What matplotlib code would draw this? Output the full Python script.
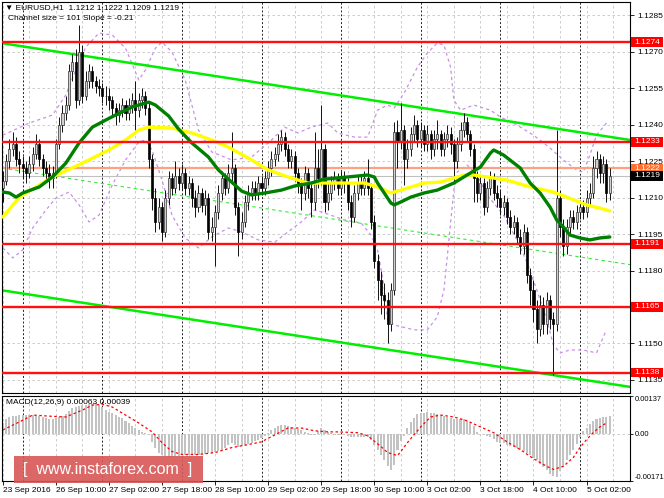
import matplotlib
matplotlib.use("Agg")
import matplotlib.pyplot as plt
import matplotlib.transforms as mtransforms
from matplotlib.patches import Rectangle
import numpy as np

plt.rcParams['font.family'] = ['Liberation Sans', 'DejaVu Sans']

# ---------------- data ----------------
first_open = 1.1214
closes = [
    1.1217, 1.1225, 1.1230, 1.1232, 1.1226, 1.1224, 1.1222, 1.1220, 1.1224, 1.1228,
    1.1232, 1.1226, 1.1222, 1.1220, 1.1218, 1.1220, 1.1232, 1.1240, 1.1245, 1.1248,
    1.1262, 1.1266, 1.1250, 1.1270, 1.1252, 1.1258, 1.1262, 1.1258, 1.1256, 1.1255,
    1.1252, 1.1252, 1.1250, 1.1247, 1.1244, 1.1246, 1.1248, 1.1245, 1.1248, 1.1250,
    1.1246, 1.1250, 1.1252, 1.1247, 1.1226, 1.1210, 1.1200, 1.1206, 1.1196, 1.1210,
    1.1218, 1.1214, 1.1219, 1.1216, 1.1220, 1.1214, 1.1216, 1.1210, 1.1206, 1.1212,
    1.1207, 1.1210, 1.1196, 1.1198, 1.1204, 1.1212, 1.1218, 1.1214, 1.1220, 1.1222,
    1.1206, 1.1196, 1.1200, 1.1208, 1.1212, 1.1214, 1.1212, 1.1216, 1.1214, 1.1218,
    1.1222, 1.1226, 1.1228, 1.1232, 1.1235, 1.1230, 1.1225, 1.1227, 1.1220, 1.1216,
    1.1212, 1.1220, 1.1214, 1.1208, 1.1222, 1.1218, 1.1230, 1.1208, 1.1212, 1.1216,
    1.1218, 1.1214, 1.1218, 1.1216, 1.1208, 1.1202, 1.1212, 1.1216, 1.1214, 1.1218,
    1.1214, 1.1200, 1.1184, 1.1176, 1.1170, 1.1168, 1.1158, 1.1172, 1.1237, 1.1233,
    1.1238, 1.1226, 1.1230, 1.1236, 1.1240, 1.1234, 1.1238, 1.1232, 1.1236, 1.1230,
    1.1234, 1.1236, 1.1230, 1.1234, 1.1236, 1.1232, 1.1225, 1.1232, 1.1238, 1.1241,
    1.1236, 1.1230, 1.1218, 1.1212, 1.1216, 1.1206, 1.1214, 1.1218, 1.1212, 1.1210,
    1.1206, 1.1208, 1.1202, 1.1198, 1.1200, 1.1194, 1.1190, 1.1196, 1.1178, 1.1172,
    1.1164, 1.1156, 1.1166, 1.1158, 1.1168, 1.1160, 1.1158, 1.1210, 1.1198, 1.1190,
    1.1198, 1.1202, 1.1200, 1.1204, 1.1206, 1.1204, 1.1210, 1.1212, 1.1222, 1.1226,
    1.1220, 1.1224, 1.1212, 1.1219]
highs = [
    1.1221, 1.1228, 1.1234, 1.1237, 1.1235, 1.1229, 1.1227, 1.1225, 1.1227, 1.1231,
    1.1236, 1.1234, 1.1228, 1.1225, 1.1224, 1.1223, 1.1234, 1.1243, 1.1248, 1.1252,
    1.1265, 1.1269, 1.1271, 1.1281, 1.1273, 1.1262, 1.1265, 1.1264, 1.1260, 1.1259,
    1.1257, 1.1256, 1.1255, 1.1252, 1.1249, 1.1249, 1.1251, 1.1250, 1.1251, 1.1253,
    1.1258, 1.1253, 1.1255, 1.1254, 1.1249, 1.1228, 1.1214, 1.1210, 1.1208, 1.1213,
    1.1221, 1.1220, 1.1225, 1.1222, 1.1224, 1.1222, 1.1219, 1.1218, 1.1213, 1.1215,
    1.1214, 1.1213, 1.1212, 1.1202, 1.1207, 1.1215, 1.1221, 1.1220, 1.1224, 1.1237,
    1.1224, 1.1208, 1.1204, 1.1211, 1.1215, 1.1217, 1.1217, 1.1219, 1.1219, 1.1221,
    1.1225, 1.1229, 1.1231, 1.1236, 1.1238, 1.1237, 1.1232, 1.1230, 1.1229, 1.1222,
    1.1218, 1.1223, 1.1222, 1.1216, 1.1237, 1.1230, 1.1248, 1.1232, 1.1216, 1.1219,
    1.1221, 1.1220, 1.1221, 1.1221, 1.1218, 1.1211, 1.1215, 1.1219, 1.1219, 1.1221,
    1.1226, 1.1216, 1.1203, 1.1187, 1.1180, 1.1175, 1.1171, 1.1175, 1.1241, 1.1242,
    1.1249, 1.1240, 1.1234, 1.1239, 1.1244, 1.1242, 1.1241, 1.1240, 1.1240, 1.1238,
    1.1238, 1.1242, 1.1238, 1.1237, 1.1240, 1.1239, 1.1234, 1.1235, 1.1241, 1.1245,
    1.1243, 1.1238, 1.1232, 1.1221, 1.1219, 1.1218, 1.1217, 1.1221, 1.1220, 1.1215,
    1.1213, 1.1211, 1.1210, 1.1205, 1.1203, 1.1202, 1.1197, 1.1199, 1.1198, 1.1181,
    1.1176, 1.1168, 1.1170, 1.1169, 1.1171, 1.1170, 1.1163, 1.1238, 1.1213, 1.1201,
    1.1201, 1.1205, 1.1205, 1.1207, 1.1209, 1.1209, 1.1213, 1.1216, 1.1227, 1.1229,
    1.1228, 1.1227, 1.1226, 1.1222]
lows = [
    1.1208, 1.1215, 1.1222, 1.1227, 1.1223, 1.1220, 1.1218, 1.1216, 1.1218, 1.1221,
    1.1226, 1.1223, 1.1219, 1.1217, 1.1214, 1.1214, 1.1218, 1.1230, 1.1237, 1.1242,
    1.1246, 1.1258, 1.1247, 1.1248, 1.1249, 1.1250, 1.1255, 1.1255, 1.1253, 1.1252,
    1.1249, 1.1248, 1.1246, 1.1243, 1.1240, 1.1241, 1.1243, 1.1242, 1.1242, 1.1245,
    1.1238, 1.1243, 1.1247, 1.1244, 1.1222, 1.1205, 1.1196, 1.1197, 1.1192, 1.1194,
    1.1207, 1.1211, 1.1212, 1.1213, 1.1213, 1.1211, 1.1211, 1.1206, 1.1202, 1.1204,
    1.1204, 1.1203, 1.1193, 1.1192, 1.1182, 1.1201, 1.1209, 1.1211, 1.1212, 1.1217,
    1.1203, 1.1186, 1.1193, 1.1198, 1.1205, 1.1209, 1.1209, 1.1209, 1.1211, 1.1211,
    1.1215, 1.1219, 1.1223, 1.1225, 1.1229, 1.1227, 1.1222, 1.1222, 1.1217, 1.1212,
    1.1205, 1.1209, 1.1210, 1.1202, 1.1205, 1.1214, 1.1215, 1.1204, 1.1205, 1.1209,
    1.1213, 1.1211, 1.1211, 1.1212, 1.1205, 1.1198, 1.1200, 1.1209, 1.1211, 1.1211,
    1.1211, 1.1197, 1.1181, 1.1168, 1.1162, 1.1160, 1.1150, 1.1155, 1.1170, 1.1222,
    1.1230, 1.1215, 1.1222, 1.1227, 1.1233, 1.1231, 1.1231, 1.1229, 1.1229, 1.1226,
    1.1227, 1.1230, 1.1227, 1.1227, 1.1231, 1.1228, 1.1216, 1.1222, 1.1229, 1.1235,
    1.1233, 1.1227, 1.1208, 1.1208, 1.1209, 1.1203, 1.1204, 1.1211, 1.1209, 1.1206,
    1.1203, 1.1203, 1.1199, 1.1195, 1.1195, 1.1191, 1.1187, 1.1187, 1.1175, 1.1166,
    1.1159, 1.1150, 1.1153, 1.1154, 1.1154, 1.1156, 1.1137, 1.1155, 1.1194, 1.1186,
    1.1187, 1.1195, 1.1197, 1.1197, 1.1201, 1.1201, 1.1202, 1.1207, 1.1210, 1.1218,
    1.1216, 1.1216, 1.1208, 1.1209]

# moving averages (bar index, price)
green_idx = [0, 2, 4, 6, 11, 15, 19, 23, 27, 31, 34, 39, 44, 46, 50, 53, 57, 62, 65, 69,
             72, 75, 79, 84, 88, 93, 97, 104, 110, 112, 113, 115, 117, 118, 120, 123, 127,
             131, 136, 139, 144, 147, 148, 151, 156, 159, 162, 165, 167, 169, 171, 174,
             177, 180, 183]
green_val = [1.12123, 1.12119, 1.12102, 1.12119, 1.12144, 1.12185, 1.12242, 1.12325,
             1.12390, 1.12419, 1.12440, 1.12473, 1.12493, 1.12481, 1.12436, 1.12382,
             1.12325, 1.12267, 1.12214, 1.12164, 1.12127, 1.12111, 1.12119, 1.12131,
             1.12148, 1.12160, 1.12176, 1.12185, 1.12193, 1.12185, 1.12160, 1.12119,
             1.12078, 1.12070, 1.12082, 1.12102, 1.12119, 1.12131, 1.12160, 1.12185,
             1.12226, 1.12283, 1.12296, 1.12275, 1.12222, 1.12160, 1.12119, 1.12061,
             1.12008, 1.11979, 1.11946, 1.11934, 1.11926, 1.11934, 1.11938]
yellow_idx = [0, 5, 15, 24, 32, 37, 41, 44, 51, 57, 63, 68, 75, 80, 86, 92, 100, 109,
              113, 117, 120, 127, 132, 139, 142, 146, 152, 159, 166, 170, 176, 180, 183]
yellow_val = [1.12020, 1.12102, 1.12185, 1.12242, 1.12296, 1.12337, 1.12378, 1.12390,
              1.12386, 1.12366, 1.12337, 1.12308, 1.12255, 1.12214, 1.12185, 1.12160,
              1.12160, 1.12160, 1.12144, 1.12119, 1.12131, 1.12160, 1.12164, 1.12193,
              1.12193, 1.12185, 1.12172, 1.12144, 1.12123, 1.12102, 1.12070, 1.12057,
              1.12045]
bb_up_idx = [0, 8, 15, 19, 22, 25, 29, 33, 37, 41, 43, 46, 48, 51, 55, 59, 63, 69, 75, 81,
             85, 89, 93, 98, 101, 106, 110, 113, 116, 118, 121, 125, 128, 131, 133, 135,
             136, 138, 142, 147, 150, 155, 160, 165, 169, 173, 175, 177, 179, 182]
bb_up_val = [1.12357, 1.12407, 1.12440, 1.12522, 1.12625, 1.12719, 1.12777, 1.12769,
             1.12715, 1.12584, 1.12625, 1.12715, 1.12740, 1.12699, 1.12584, 1.12378,
             1.12288, 1.12255, 1.12267, 1.12337, 1.12390, 1.12366, 1.12390, 1.12407,
             1.12366, 1.12349, 1.12349, 1.12460, 1.12481, 1.12469, 1.12530, 1.12637,
             1.12695, 1.12736, 1.12728, 1.12637, 1.12501, 1.12460, 1.12481, 1.12460,
             1.12432, 1.12399, 1.12357, 1.12304, 1.12255, 1.12214, 1.12205, 1.12275,
             1.12357, 1.12407]
bb_lo_idx = [0, 3, 6, 9, 13, 16, 20, 23, 26, 29, 33, 37, 41, 43, 45, 48, 51, 55, 59, 63,
             68, 72, 77, 82, 86, 90, 94, 97, 103, 108, 111, 113, 115, 116, 118, 124, 128,
             131, 133, 134, 135, 136, 137, 140, 143, 146, 151, 155, 158, 161, 164, 166,
             168, 171, 175, 179, 182]
bb_lo_val = [1.11893, 1.11852, 1.11885, 1.11975, 1.12049, 1.12098, 1.12123, 1.12070,
             1.12000, 1.12028, 1.12152, 1.12255, 1.12329, 1.12337, 1.12296, 1.12172,
             1.12028, 1.11934, 1.11893, 1.11938, 1.11975, 1.11959, 1.11926, 1.11917,
             1.11959, 1.12000, 1.12049, 1.12037, 1.12008, 1.11996, 1.11946, 1.11885,
             1.11732, 1.11597, 1.11576, 1.11556, 1.11556, 1.11609, 1.11720, 1.11856,
             1.11996, 1.12131, 1.12205, 1.12234, 1.12193, 1.12111, 1.12028, 1.11926,
             1.11835, 1.11720, 1.11597, 1.11494, 1.11461, 1.11473, 1.11473, 1.11461,
             1.11556]

# regression channel (bar index, price)
channel_idx = [0, 183]
channel_upper = [1.12735, 1.12350]
channel_mid = [1.12221, 1.11837]
channel_lower = [1.11718, 1.11334]

# levels
red_levels = [1.1274, 1.1233, 1.1191, 1.1165, 1.1138]
orange_level = 1.1222
last_price = 1.1219

# MACD (main histogram and signal, in units of 1e-5)
macd_hist = [
    39, 55, 60, 64, 66, 68, 68, 68, 68, 68, 66, 63, 60, 57, 54, 55, 57, 60, 64, 72,
    84, 92, 97, 101, 104, 106, 107, 109, 111, 105, 97, 88, 80, 74, 68, 62, 57, 48, 40, 30,
    22, 14, 7, 3, -5, -30, -52, -68, -76, -82, -83, -83, -82, -80, -78, -76, -75, -75, -75, -75,
    -74, -72, -70, -68, -66, -62, -57, -50, -40, -32, -40, -46, -45, -42, -38, -33, -27, -21, -15, -9,
    3, 14, 22, 30, 33, 32, 30, 26, 22, 18, 12, 8, 4, -4, -6, 10, 20, 12, 7, 3,
    -3, -4, -4, -5, -8, -10, -10, -10, -10, -10, -12, -22, -40, -60, -78, -95, -118, -130, -112, -60,
    -25, -8, 20, 43, 58, 70, 75, 77, 78, 77, 75, 72, 68, 65, 61, 58, 55, 54, 54, 52,
    46, 38, 27, 8, -2, -5, -8, -12, -20, -28, -32, -35, -40, -43, -47, -52, -57, -62, -70, -78,
    -86, -96, -108, -120, -132, -145, -152, -155, -135, -115, -95, -78, -58, -38, -12, 10, 22, 35, 45, 52,
    58, 61, 62, 63]
signal_idx = [0, 5, 9, 14, 19, 24, 27, 30, 33, 37, 41, 45, 48, 51, 54, 59, 64, 69, 74, 78,
              82, 86, 90, 94, 98, 101, 107, 110, 114, 116, 119, 120, 122, 126, 129, 132,
              136, 140, 144, 148, 152, 156, 160, 164, 166, 169, 172, 174, 176, 178, 180, 182]
signal_val = [14, 43, 68, 64, 61, 86, 104, 107, 97, 68, 39, 7, -32, -64, -75, -75, -68, -50,
              -39, -29, -4, 21, 21, 11, 7, 7, 4, -7, -46, -68, -79, -64, -32, 25, 61, 68, 61,
              47, 25, 4, -29, -57, -90, -118, -129, -118, -86, -50, -21, 4, 25, 39]

price_ticks = [1.1285, 1.1270, 1.1255, 1.1240, 1.1225, 1.1210, 1.1195, 1.1180, 1.1165,
               1.1150, 1.1135]
xtick_idx = [0, 16, 32, 48, 64, 80, 96, 112, 128, 144, 160, 176]
xtick_labels = ["23 Sep 2016", "26 Sep 10:00", "27 Sep 02:00", "27 Sep 18:00",
                "28 Sep 10:00", "29 Sep 02:00", "29 Sep 18:00", "30 Sep 10:00",
                "3 Oct 02:00", "3 Oct 18:00", "4 Oct 10:00", "5 Oct 02:00"]
day_separators = [6, 30, 54, 78, 102, 126, 150, 174]

# ---------------- figure ----------------
W, H = 664, 498
fig = plt.figure(figsize=(W / 100, H / 100), dpi=100)
fig.patch.set_facecolor('white')

def fx(px):
    return px / W

def fy(py):
    return 1 - py / H

ax = fig.add_axes([fx(2), fy(393), fx(630) - fx(2), fy(2) - fy(393)])
ax2 = fig.add_axes([fx(2), fy(481), fx(630) - fx(2), fy(396) - fy(481)])

XMIN, XMAX = -0.24, 189.1
idx = np.arange(len(closes))
c = np.array(closes)
o = np.array([first_open] + closes[:-1])
hi = np.array(highs)
lo = np.array(lows)

for a in (ax, ax2):
    a.set_xlim(XMIN, XMAX)
    a.set_facecolor('white')
    for gx in range(0, 190, 8):
        a.axvline(gx, color='#c4c4c4', ls=(0, (3, 3)), lw=0.6, zorder=0.2)
    for d in day_separators:
        a.axvline(d, color='#202020', ls=(0, (2, 2)), lw=0.7, zorder=0.3)
    for sp in a.spines.values():
        sp.set_color('black')
        sp.set_linewidth(0.8)

ax.set_ylim(1.11296, 1.12905)
for p in price_ticks:
    ax.axhline(p, color='#c4c4c4', ls=(0, (3, 3)), lw=0.6, zorder=0.2)

# bollinger-like envelope
ax.plot(bb_up_idx, bb_up_val, color='#c890e8', ls=(0, (2.5, 2.5)), lw=0.9, zorder=1.2)
ax.plot(bb_lo_idx, bb_lo_val, color='#c890e8', ls=(0, (2.5, 2.5)), lw=0.9, zorder=1.2)

# channel
ax.axline((channel_idx[0], channel_upper[0]), (channel_idx[1], channel_upper[1]),
          color='#00ee00', lw=1.8, zorder=1.4)
ax.axline((channel_idx[0], channel_lower[0]), (channel_idx[1], channel_lower[1]),
          color='#00ee00', lw=1.8, zorder=1.4)
ax.axline((channel_idx[0], channel_mid[0]), (channel_idx[1], channel_mid[1]),
          color='#33ee33', lw=0.8, ls=(0, (3, 3)), zorder=1.4)

# price lines
ax.axhline(last_price, color='#c0c0c0', lw=0.8, zorder=1.3)
ax.axhline(orange_level, color='#ffa080', lw=1.6, zorder=1.5)

# candles
up = c >= o
ax.vlines(idx, lo, hi, color='#111111', lw=0.7, zorder=2)
ax.bar(idx[up], (c - o)[up], bottom=o[up], width=0.62, color='#d0d0d0',
       edgecolor='#303030', linewidth=0.5, zorder=2.1)
ax.bar(idx[~up], (c - o)[~up], bottom=o[~up], width=0.62, color='black',
       edgecolor='black', linewidth=0.5, zorder=2.1)

# moving averages
ax.plot(yellow_idx, yellow_val, color='#ffff00', lw=2.4, zorder=3, solid_capstyle='round')
ax.plot(green_idx, green_val, color='#008000', lw=2.4, zorder=3.1, solid_capstyle='round')

for lev in red_levels:
    ax.axhline(lev, color='#ff1010', lw=1.7, zorder=3.3)

ax.set_xticks([])
ax.yaxis.tick_right()
ax.set_yticks(price_ticks)
# the 1.1165 tick label sits under the red level box, as in the reference
ax.set_yticklabels(["" if abs(p - 1.1165) < 1e-6 else f"{p:.4f}" for p in price_ticks])
ax.tick_params(axis='y', direction='out', length=3, width=0.6, labelsize=6, pad=2,
               colors='black')

# right-side price labels
trans = mtransforms.blended_transform_factory(ax.transAxes, ax.transData)
boxes = [(lev, '#ff0000', 'white') for lev in red_levels] + \
        [(orange_level, '#ff7030', 'white'), (last_price, '#000000', 'white')]
box_h = 0.00040
for lev, fc, tc in boxes:
    ax.add_patch(Rectangle((1.0016, lev - box_h / 2), 0.0510, box_h, transform=trans,
                           facecolor=fc, edgecolor='none', clip_on=False, zorder=10))
    ax.text(1.0075, lev, f"{lev:.4f}", transform=trans, ha='left', va='center',
            fontsize=6, color=tc, clip_on=False, zorder=11)

# header texts
fig.text(fx(5), fy(8), "\u25BC EURUSD,H1  1.1212 1.1222 1.1209 1.1219", fontsize=6,
         va='center', ha='left', color='black', family=['Liberation Sans', 'DejaVu Sans'])
fig.text(fx(8), fy(19), "Channel size = 101 Slope = -0.21", fontsize=6, va='center',
         ha='left', color='black')

# ---------------- MACD ----------------
ax2.set_ylim(-0.00171, 0.00137)
ax2.axhline(0, color='#c4c4c4', ls=(0, (3, 3)), lw=0.6, zorder=0.2)
ax2.bar(idx, np.array(macd_hist) * 1e-5, width=0.62, color='#c3c3c3', zorder=2)
ax2.plot(signal_idx, np.array(signal_val) * 1e-5, color='#ff0000', ls=(0, (2, 2)),
         lw=0.9, zorder=3)
ax2.yaxis.tick_right()
ax2.set_yticks([-0.00171, 0.0, 0.00137])
ax2.set_yticklabels(['-0.00171', '0.00', '0.00137'])
ax2.tick_params(axis='y', direction='out', length=2.5, width=0.6, labelsize=5.4, pad=1.2)
labs = ax2.get_yticklabels()
labs[0].set_va('bottom')
labs[2].set_va('top')
ax2.set_xticks(xtick_idx)
ax2.set_xticklabels(xtick_labels)
ax2.tick_params(axis='x', direction='out', length=3, width=0.6, labelsize=6, pad=1)
for t in ax2.get_xticklabels():
    t.set_ha('left')
fig.text(fx(6), fy(403), "MACD(12,26,9) 0.00063 0.00039", fontsize=6, va='center',
         ha='left', color='black')

# watermark
fig.patches.append(Rectangle((fx(14), fy(483)), fx(203) - fx(14), fy(456) - fy(483),
                             transform=fig.transFigure, facecolor='#d85656', alpha=0.9,
                             edgecolor='none', zorder=20))
fig.text(fx(108), fy(469.5), "[  www.instaforex.com  ]", fontsize=11.5, color='white',
         ha='center', va='center', zorder=21)

fig.savefig('out.png', dpi=100, facecolor='white')
